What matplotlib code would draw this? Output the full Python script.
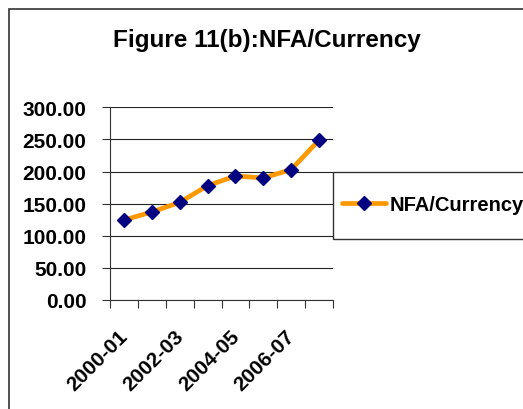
import numpy as np
import matplotlib.pyplot as plt
import matplotlib.transforms as mtransforms
from matplotlib.patches import Rectangle

# -------------------------
# Data
# -------------------------

years = ["2000-01", "2001-02", "2002-03", "2003-04",
         "2004-05", "2005-06", "2006-07", "2007-08"]
nfa_currency = [124.5, 137.0, 152.0, 178.0, 193.0, 190.0, 203.0, 249.0]
y_ticks = [0, 50, 100, 150, 200, 250, 300]

plt.rcParams['font.family'] = ['Liberation Sans', 'DejaVu Sans']
plt.rcParams['font.weight'] = 'bold'

W, H = 523, 410
fig = plt.figure(figsize=(W / 100, H / 100), dpi=100)

# outer chart border (runs off right/bottom edge)
fig.patches.append(Rectangle((9 / W, -0.1), 1.2, 1 - 10 / H + 0.1,
                             transform=fig.transFigure, fill=False,
                             edgecolor='#333333', linewidth=1.2))

ax = fig.add_axes([110 / W, (H - 301) / H, 223 / W, (301 - 108.3) / H])

x = np.arange(len(years))
line, = ax.plot(x, nfa_currency, color='#FF9900', linewidth=3.4,
                marker='D', markersize=7.5, markerfacecolor='#000080',
                markeredgecolor='#000080', label='NFA/Currency',
                solid_joinstyle='round', solid_capstyle='round')

ax.set_xlim(-0.5, len(years) - 0.5)
ax.set_ylim(0, 300)
ax.set_yticks(y_ticks)
ax.set_yticklabels([f"{v:.2f}" for v in y_ticks])
ax.yaxis.grid(True, color='#222222', linewidth=0.8)
ax.set_axisbelow(True)

# category boundaries as ticks, labels on every other category
ax.set_xticks(np.arange(-0.5, len(years), 1.0))
ax.set_xticklabels([])
ax.set_xticks(x[::2], minor=True)
ax.set_xticklabels(years[::2], minor=True, rotation=45, ha='right',
                   va='top', rotation_mode='anchor', fontsize=15)
ax.tick_params(axis='x', which='minor', length=0, pad=19)
ax.tick_params(axis='x', which='major', direction='out', length=6,
               width=0.8, color='#333333')
ax.tick_params(axis='y', direction='out', length=6, width=0.8,
               color='#333333', labelsize=15, pad=11)

shift = mtransforms.ScaledTranslation(-6 / 100, 0, fig.dpi_scale_trans)
for lbl in ax.get_xticklabels(minor=True):
    lbl.set_transform(lbl.get_transform() + shift)

for s in ['top', 'right']:
    ax.spines[s].set_visible(False)
for s in ['left', 'bottom']:
    ax.spines[s].set_color('#333333')
    ax.spines[s].set_linewidth(0.8)

fig.text(267 / W, 1 - 40 / H, "Figure 11(b):NFA/Currency",
         ha='center', va='center', fontsize=17.5, fontweight='bold')

# legend box
fig.patches.append(Rectangle((333 / W, (H - 240) / H), 0.5, 67 / H,
                             transform=fig.transFigure, fill=False,
                             edgecolor='#333333', linewidth=1.0))
fig.legend(handles=[line], loc='center left',
           bbox_to_anchor=(342 / W, (H - 206) / H), frameon=False,
           fontsize=14.5, handlelength=2.2, handletextpad=0.15,
           borderpad=0, borderaxespad=0)

fig.savefig("out.png", dpi=100)
